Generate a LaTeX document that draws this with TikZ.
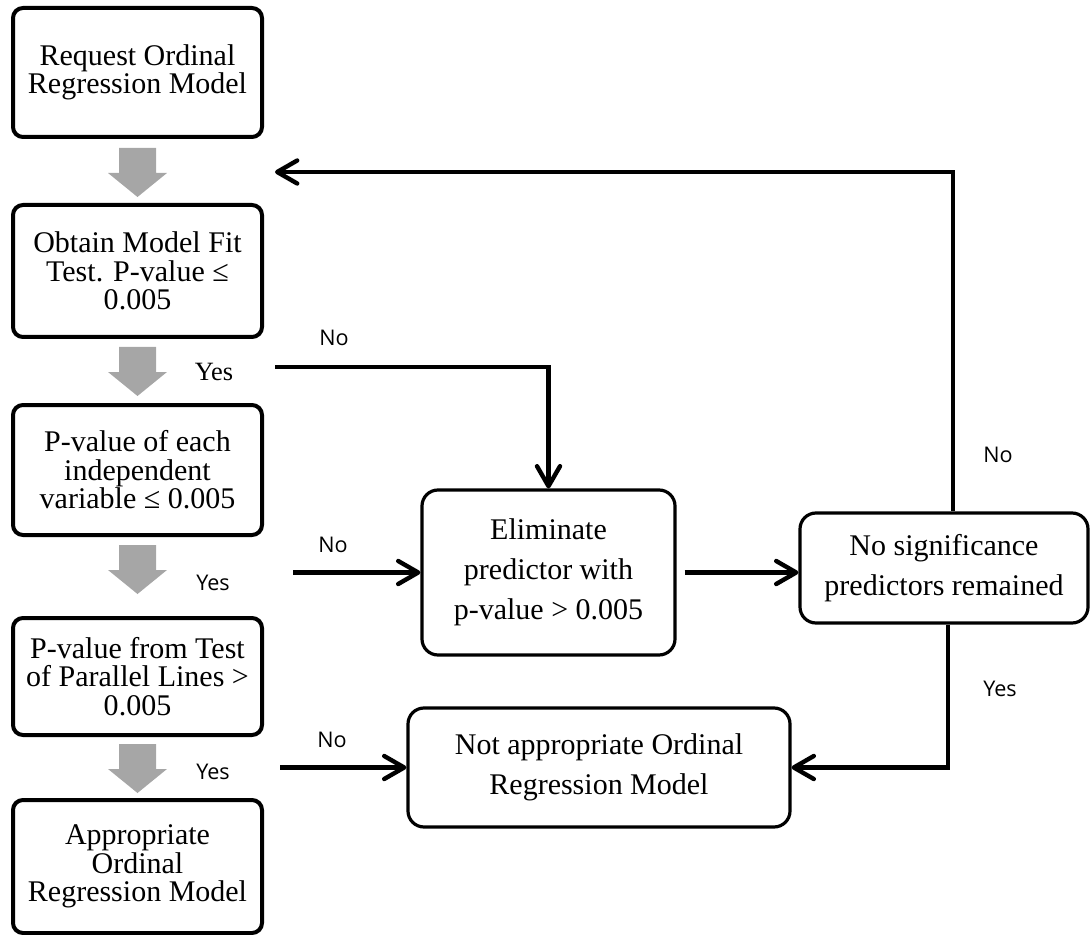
\documentclass[tikz,border=0pt]{standalone}
\usepackage{fontspec}
\setmainfont{Liberation Serif}
\newfontfamily\labelfont{Open Sans}
\usetikzlibrary{arrows.meta}
\definecolor{arrowgray}{RGB}{166,166,166}
\tikzset{
leftbox/.style={draw, line width=2pt, rounded corners=5pt, minimum width=124.5pt, align=center, font=\fontsize{15}{14.2}\selectfont},
midbox/.style={draw, line width=1.6pt, rounded corners=8pt, align=center, font=\fontsize{15}{20}\selectfont},
conn/.style={line width=2.2pt, -{Straight Barb[length=10pt,width=11.5pt,round]}},
lbl/.style={font=\labelfont\fontsize{10.8}{12}\selectfont},
graydown/.pic={
  \fill[arrowgray] (-18.5,0) -- (18.5,0) -- (18.5,25) -- (29.5,25) -- (0,49) -- (-29.5,25) -- (-18.5,25) -- cycle;
  }
}
\begin{document}
\begin{tikzpicture}[x=0.5pt,y=-0.5pt]
\useasboundingbox (0,0) rectangle (1091,935);

\node[leftbox, minimum height=64.5pt] (req) at (137.5,72.5) {Request Ordinal\\Regression Model};
\node[leftbox, minimum height=66pt] (fit) at (137.5,271) {Obtain Model Fit\\Test. P-value ≤\\0.005};
\node[leftbox, minimum height=65pt] (indep) at (137.5,470) {P-value of each\\independent\\variable ≤ 0.005};
\node[leftbox, minimum height=58.5pt] (par) at (137.5,676.5) {P-value from Test\\of Parallel Lines >\\0.005};
\node[leftbox, minimum height=66.5pt] (approp) at (137.5,866.5) {Appropriate\\Ordinal\\Regression Model};

\pic at (137.5,148) {graydown};
\pic at (137.5,347) {graydown};
\pic at (137.5,545) {graydown};
\pic at (137.5,744) {graydown};

\node[midbox, minimum width=126.5pt, minimum height=82.5pt] (elim) at (548.5,572.5) {Eliminate\\predictor with\\p-value > 0.005};
\node[midbox, minimum width=144pt, minimum height=55pt] (nosig) at (944,568) {No significance\\predictors remained};
\node[midbox, minimum width=191pt, minimum height=59.5pt] (notapp) at (599,767.5) {Not appropriate Ordinal\\Regression Model};

\coordinate (fbend) at (275,172);
\coordinate (fitno) at (275,367);
\coordinate (indepno) at (293,572.5);
\coordinate (parno) at (280,767.5);

\draw[conn] (fitno) -| (elim.north);
\draw[conn] (indepno) -- (elim.west);
\draw[conn, shorten <=4pt] (elim.east) -- (elim.east -| nosig.west);
\draw[conn] ([xshift=4.5pt]nosig.north) |- (fbend);
\draw[conn] ([xshift=2pt]nosig.south) |- (notapp.east);
\draw[conn] (parno) -- (notapp.west);

\node[font=\fontsize{13.2}{14}\selectfont] (yesfit) at (214,372) {Yes};
\node[lbl] (yesindep) at (213,583) {Yes};
\node[lbl] (yespar) at (213,772) {Yes};
\node[lbl] (nofit) at (334,338) {No};
\node[lbl] (noindep) at (333,545) {No};
\node[lbl] (nopar) at (332,740) {No};
\node[lbl] (nofb) at (998,455) {No};
\node[lbl] (yesnosig) at (1000,689) {Yes};
\end{tikzpicture}
\end{document}
